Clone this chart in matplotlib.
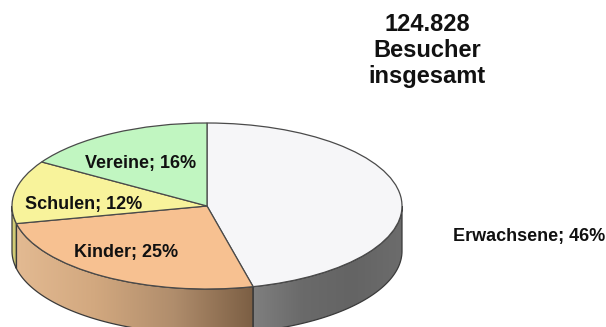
import numpy as np
import matplotlib
matplotlib.use('Agg')
import matplotlib.pyplot as plt
from matplotlib.colors import LinearSegmentedColormap
from matplotlib.patches import Polygon

labels = ['Erwachsene', 'Kinder', 'Schulen', 'Vereine']
shares = [46.2, 25.4, 12.3, 16.1]    # labels are rounded, these add up to 100
colors = ['#f6f6f8', '#f7c191', '#f8f39b', '#c1f6c1']
title_lines = ['124.828', 'Besucher', 'insgesamt']

# side gradients left to right
side_colors = {
    'Erwachsene': ['#7f7f7f', '#6a6a6a', '#646464', '#6c6c6c'],
    'Kinder': ['#e3ba92', '#d2a87f', '#b08d6c', '#7c5f44'],
    'Schulen': ['#d8d27c', '#c8c46e'],
}

W, H = 606, 327
cx, cy = 207, 206     # pie centre in pixels
rx, ry = 195, 83      # ellipse radii in pixels
depth = 45 / ry       # height of the side, in units of ry

plt.rcParams['font.family'] = ['Liberation Sans', 'DejaVu Sans']

fig = plt.figure(figsize=(W / 100, H / 100), dpi=100)
ax = fig.add_axes([0, 0, 1, 1])

# top of the pie, one unit wide on both axes, squeezed by the axis limits
ax.pie(shares, colors=colors, startangle=90, counterclock=False, radius=1,
       wedgeprops={'edgecolor': '#4a4a4a', 'linewidth': 0.9, 'zorder': 5})

xlim = (-cx / rx, (W - cx) / rx)
ylim = (-(H - cy) / ry, cy / ry)

# sides, only where they face the viewer
edges = np.cumsum([0] + shares) / sum(shares) * 360
for i, name in enumerate(labels):
    start = max(edges[i], 90)
    end = min(edges[i + 1], 270)
    if end <= start:
        continue
    t = np.radians(np.linspace(start, end, 80))
    x, y = np.sin(t), np.cos(t)
    pts = np.r_[np.c_[x, y], np.c_[x[::-1], y[::-1] - depth]]
    side = Polygon(pts, closed=True, facecolor='none', edgecolor='none')
    ax.add_patch(side)
    cmap = LinearSegmentedColormap.from_list(name, side_colors[name])
    img = ax.imshow(np.linspace(0, 1, 256).reshape(1, -1), cmap=cmap, aspect='auto',
                    extent=(x.min(), x.max(), -2, 1), zorder=2)
    img.set_clip_path(side)
    ax.add_patch(Polygon(pts, closed=True, facecolor='none', edgecolor='#3a3a3a',
                         linewidth=0.9, zorder=3))

ax.set_xlim(xlim)
ax.set_ylim(ylim)
ax.set_aspect('auto')
ax.axis('off')

# data labels
label_pos = [(529, 236), (126, 252), (84, 204), (141, 163)]
for name, share, (px, py) in zip(labels, shares, label_pos):
    fig.text(px / W, 1 - py / H, f'{name}; {share:.0f}%', ha='center', va='center',
             fontsize=13, fontweight='bold', color='#111111', zorder=10)

fig.text(427 / W, 1 - 50.5 / H, '\n'.join(title_lines), ha='center', va='center',
         fontsize=17, fontweight='bold', color='#111111', linespacing=1.18)

fig.savefig('out.png', dpi=100)
